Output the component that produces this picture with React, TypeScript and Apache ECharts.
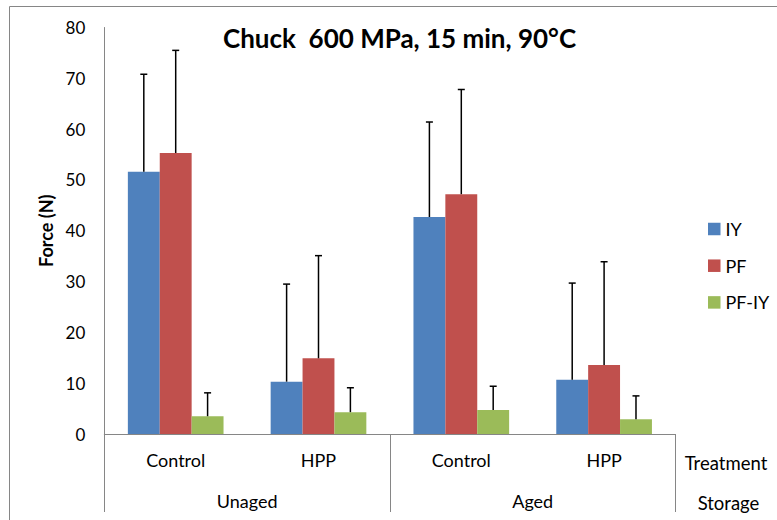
import React, { useEffect, useRef } from "react";
import * as echarts from "echarts";

const treatments = ["Control", "HPP", "Control", "HPP"];
const storage = ["Unaged", "Aged"];
const seriesNames = ["IY", "PF", "PF-IY"];
const iyValues = [51.6, 10.3, 42.7, 10.7];
const pfValues = [55.3, 14.9, 47.2, 13.6];
const pfIyValues = [3.5, 4.3, 4.7, 2.9];
const iyErrors = [19.2, 19.2, 18.7, 19.0];
const pfErrors = [20.2, 20.2, 20.6, 20.3];
const pfIyErrors = [4.6, 4.8, 4.7, 4.6];
const colors = ["#4F81BD", "#C0504D", "#9BBB59"];
const yTicks = { min: 0, max: 80, interval: 10 };

const FONT = "Lato";
const CAT_GAP = 0.33;

export default function App() {
  const ref = useRef<HTMLDivElement>(null);
  useEffect(() => {
    if (!ref.current) return;
    const chart = echarts.init(ref.current, null, { renderer: "svg" });
    const values = [iyValues, pfValues, pfIyValues];
    const errors = [iyErrors, pfErrors, pfIyErrors];
    const errData: number[][] = [];
    values.forEach((arr, s) => {
      arr.forEach((v, c) => errData.push([c, s, v, errors[s][c]]));
    });
    const axisGray = "#868686";
    chart.setOption({
      animation: false,
      textStyle: { fontFamily: FONT },
      title: {
        text: "Chuck  600 MPa, 15 min, 90°C",
        left: 223,
        top: 25,
        padding: 0,
        textStyle: { fontFamily: FONT, fontSize: 26, fontWeight: "bold", color: "#000" },
      },
      legend: {
        data: seriesNames,
        orient: "vertical",
        left: 708,
        top: 219,
        padding: 0,
        itemWidth: 12.5,
        itemHeight: 12.5,
        itemGap: 16.7,
        icon: "rect",
        textStyle: { fontFamily: FONT, fontSize: 18, color: "#000", lineHeight: 20 },
      },
      graphic: [
        {
          type: "rect",
          shape: { x: 9.5, y: 6.5, width: 800, height: 540 },
          style: { fill: "none", stroke: axisGray, lineWidth: 1 },
          silent: true,
        },
        {
          type: "text",
          x: 726,
          y: 462.5,
          style: { text: "Treatment", fontFamily: FONT, fontSize: 18.5, fill: "#000", textAlign: "center", textVerticalAlign: "middle" },
        },
        {
          type: "text",
          x: 728.5,
          y: 503,
          style: { text: "Storage", fontFamily: FONT, fontSize: 18.5, fill: "#000", textAlign: "center", textVerticalAlign: "middle" },
        },
      ],
      grid: { left: 104.3, right: 101.5, top: 27.5, bottom: 86, containLabel: false },
      xAxis: [
        {
          type: "category",
          data: treatments,
          axisLine: { show: true, lineStyle: { color: axisGray, width: 1 } },
          axisTick: { show: false },
          axisLabel: { fontFamily: FONT, fontSize: 18, color: "#000", margin: 17 },
        },
        {
          type: "category",
          data: storage,
          position: "bottom",
          axisLine: { show: false },
          axisTick: { show: true, length: 78, lineStyle: { color: axisGray, width: 1 } },
          axisLabel: { fontFamily: FONT, fontSize: 18, color: "#000", margin: 58 },
          splitLine: { show: false },
        },
      ],
      yAxis: {
        type: "value",
        min: yTicks.min,
        max: yTicks.max,
        interval: yTicks.interval,
        name: "Force (N)",
        nameLocation: "middle",
        nameGap: 49,
        nameTextStyle: { fontFamily: FONT, fontSize: 18, fontWeight: "bold", color: "#000" },
        axisLine: { show: true, lineStyle: { color: axisGray, width: 1 } },
        axisTick: { show: false },
        splitLine: { show: false },
        axisLabel: { fontFamily: FONT, fontSize: 17, color: "#000", margin: 19 },
      },
      series: [
        ...seriesNames.map((name, s) => ({
          name,
          type: "bar",
          xAxisIndex: 0,
          data: values[s],
          barGap: "0%",
          barCategoryGap: CAT_GAP * 100 + "%",
          itemStyle: { color: colors[s] },
        })),
        {
          type: "custom",
          name: "errors",
          xAxisIndex: 0,
          yAxisIndex: 0,
          data: errData,
          encode: { x: 0, y: 2 },
          z: 10,
          renderItem: (params: any, api: any) => {
            const c = api.value(0);
            const s = api.value(1);
            const v = api.value(2);
            const e = api.value(3);
            const base = api.coord([c, v]);
            const top = api.coord([c, v + e]);
            const catW = api.size([1, 0])[0];
            const barW = (catW * (1 - CAT_GAP)) / 3;
            const x = base[0] + (s - 1) * barW;
            const st = { stroke: "#000", lineWidth: 1.5 };
            return {
              type: "group",
              children: [
                { type: "line", shape: { x1: x, y1: base[1], x2: x, y2: top[1] }, style: st },
                { type: "line", shape: { x1: x - 3.5, y1: top[1], x2: x + 3.5, y2: top[1] }, style: st },
              ],
            };
          },
        },
      ],
    });
    return () => chart.dispose();
  }, []);
  return (
    <div
      ref={ref}
      style={{ position: "absolute", left: 0, top: 0, width: 777, height: 520, background: "#fff" }}
    />
  );
}
